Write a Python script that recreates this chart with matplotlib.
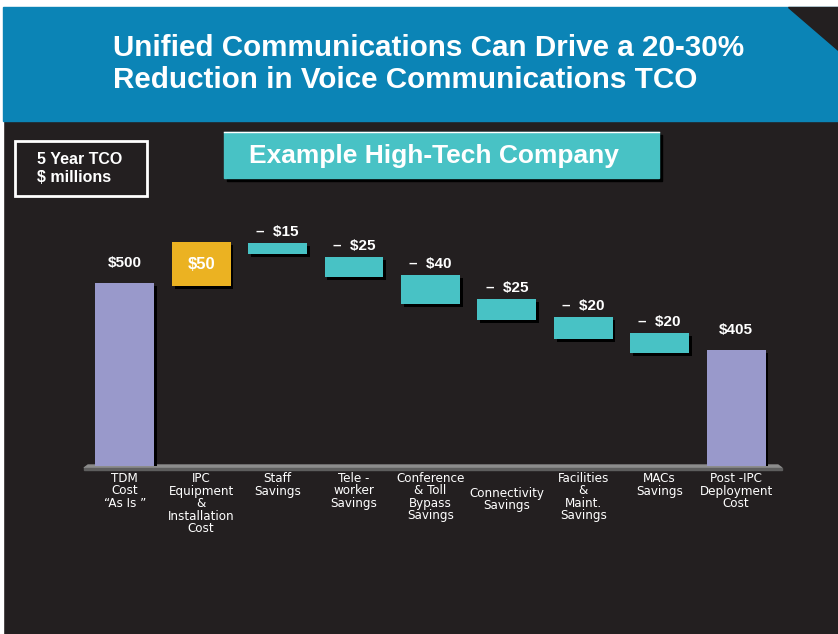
import matplotlib
matplotlib.use("Agg")
import matplotlib.pyplot as plt
import matplotlib.patheffects as pe
from matplotlib import font_manager
from matplotlib.font_manager import FontProperties
from matplotlib.patches import Rectangle, Polygon

# ---- data ----
title = "Unified Communications Can Drive a 20-30%\nReduction in Voice Communications TCO"
subtitle = "Example High-Tech Company"
unit_note = "5 Year TCO\n$ millions"

categories = [
    "TDM\nCost\n\u201cAs Is \u201d",
    "IPC\nEquipment\n&\nInstallation\nCost",
    "Staff\nSavings",
    "Tele -\nworker\nSavings",
    "Conference\n& Toll\nBypass\nSavings",
    "Connectivity\nSavings",
    "Facilities\n&\nMaint.\nSavings",
    "MACs\nSavings",
    "Post -IPC\nDeployment\nCost",
]
amounts = [500, 50, -15, -25, -40, -25, -20, -20, 405]
kinds = ["total", "cost", "saving", "saving", "saving", "saving", "saving", "saving", "total"]
# bar extents as drawn in the slide (the original is not to scale)
bar_bottom = [0, 492, 579, 516, 443, 399, 347, 309, 0]
bar_top = [500, 611, 608, 570, 521, 456, 406, 363, 317]

# ---- style ----
BG = "#231f20"
BLUE = "#0b84b6"
TEAL = "#48c2c5"
GOLD = "#ebb222"
LAV = "#9999cb"
colors = {"total": LAV, "cost": GOLD, "saving": TEAL}

plt.rcParams["font.family"] = ["Liberation Sans", "DejaVu Sans"]


def narrow_font():
    # look for a condensed sans face for the category labels
    found = []
    for f in font_manager.fontManager.ttflist:
        narrow = ("Narrow" in f.name or "Condensed" in f.name
                  or str(f.stretch) in ("condensed", "semi-condensed", "extra-condensed"))
        if not narrow or f.style != "normal" or f.weight not in ("normal", "regular", 400):
            continue
        if "Serif" in f.name or "Mono" in f.name:
            continue
        rank = 0 if "Liberation" in f.name else 1 if "Arial" in f.name else 2
        found.append((rank, f.fname))
    if found:
        return FontProperties(fname=sorted(found)[0][1])
    return None


narrow_reg = narrow_font()

W, H = 838, 634
fig = plt.figure(figsize=(W / 100, H / 100), dpi=100, facecolor=BG)

# background / decoration layer in pixel coordinates
bg = fig.add_axes([0, 0, 1, 1], zorder=0)
bg.set_xlim(0, W)
bg.set_ylim(H, 0)
bg.axis("off")
bg.add_patch(Rectangle((0, 0), W, 7, color="white"))
bg.add_patch(Rectangle((0, 0), 3, H, color="white"))
bg.add_patch(Rectangle((3, 7), W - 3, 114, color=BLUE))
bg.add_patch(Polygon([(788, 7), (W, 7), (W, 50)], color=BG))
bg.text(113, 64, title, color="white", fontsize=21.3, fontweight="bold",
        ha="left", va="center", linespacing=1.2)

# subtitle box
bg.add_patch(Rectangle((227, 135), 435, 46, color="black"))
bg.add_patch(Rectangle((224, 132), 435, 46, color=TEAL))
bg.plot([224, 659], [131.5, 131.5], color="white", lw=1)
bg.text(434, 156, subtitle, color="white", fontsize=19, fontweight="bold",
        ha="center", va="center")

# unit box
bg.add_patch(Rectangle((15, 141), 132, 55, fill=False, edgecolor="white", lw=2))
bg.text(37, 169, unit_note, color="white", fontsize=11.5, fontweight="bold",
        ha="left", va="center", linespacing=1.25)

# baseline
bg.add_patch(Polygon([(88, 465), (778, 465), (782, 468), (84, 468)], color="#8c8c8c"))
bg.add_patch(Polygon([(84, 468), (782, 468), (782, 470), (84, 470)], color="#5e5e5e"))

# ---- waterfall ----
ax = fig.add_axes([85 / W, (H - 466) / H, 697 / W, 256.2 / H], zorder=1)
ax.set_facecolor("none")
ax.set_xlim(-0.52, 8.60)
ax.set_ylim(0, 700)
ax.axis("off")

x = list(range(len(categories)))
heights = [t - b for t, b in zip(bar_top, bar_bottom)]
bars = ax.bar(x, heights, bottom=bar_bottom, width=0.77,
              color=[colors[k] for k in kinds], zorder=3)
for b in bars:
    b.set_path_effects([pe.SimplePatchShadow(offset=(2, -2), shadow_rgbFace="black", alpha=1),
                        pe.Normal()])

for i, (a, k) in enumerate(zip(amounts, kinds)):
    if k == "cost":
        ax.text(i, (bar_bottom[i] + bar_top[i]) / 2, f"${a}", color="white",
                fontsize=12, fontweight="bold", ha="center", va="center", zorder=4)
    elif k == "total":
        ax.annotate(f"${a}", (i, bar_top[i]), xytext=(0, 13), textcoords="offset pixels",
                    color="white", fontsize=11, fontweight="bold", ha="center", va="bottom")
    else:
        ax.annotate(f"\u2013  ${abs(a)}", (i, bar_top[i]), xytext=(0, 4), textcoords="offset pixels",
                    color="white", fontsize=11, fontweight="bold", ha="center", va="bottom")

for i, lab in enumerate(categories):
    dy = -21 if i == 5 else -6
    if narrow_reg is not None:
        fp = narrow_reg.copy()
        fp.set_size(9.5)
        kw = dict(fontproperties=fp)
    else:
        kw = dict(fontsize=9)
    ax.annotate(lab, (i, 0), xytext=(0, dy), textcoords="offset pixels",
                color="white", ha="center", va="top",
                linespacing=0.95, annotation_clip=False, **kw)

fig.savefig("out.png", dpi=100, facecolor=BG)
